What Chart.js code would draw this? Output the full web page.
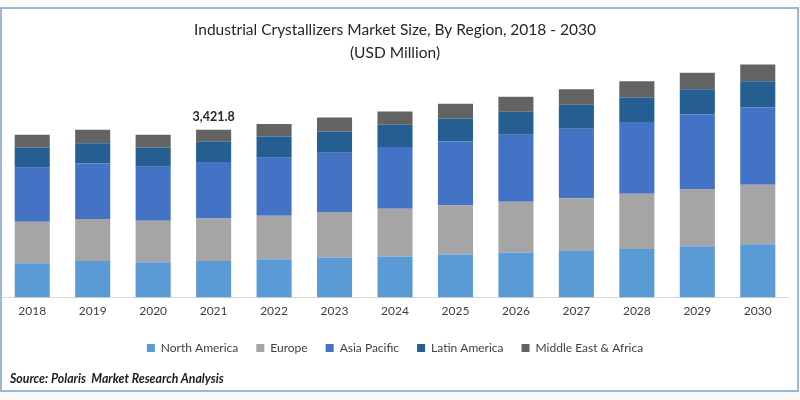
<!DOCTYPE html>
<html>
<head>
<meta charset="utf-8">
<script src="https://cdn.jsdelivr.net/npm/chart.js@4"></script>
<style>
  html, body { margin: 0; padding: 0; background: #fafaf8; }
  #wrap { position: absolute; left: 0; top: 0; width: 800px; height: 400px; }
  #frame { position: absolute; left: 0; top: 7px; width: 795px; height: 381px; border: 2px solid #9db8d6; background: #fff; }
  #chart { position: absolute; left: 0; top: 0; }
  #source { position: absolute; left: 10px; top: 371px; font: italic bold 12.3px Lato, "Liberation Sans", sans-serif; color: #1a1a1a; }
</style>
</head>
<body>
<div id="wrap">
  <div id="frame"></div>
  <canvas id="chart" width="800" height="400"></canvas>
  <div id="source">Source: Polaris&nbsp; Market Research Analysis</div>
</div>
<script>
const years = ['2018', '2019', '2020', '2021', '2022', '2023', '2024', '2025', '2026', '2027', '2028', '2029', '2030']

const northAmerica = [701, 748, 721, 748, 783, 818, 839, 880, 921, 948, 989, 1045, 1086]
const europe = [845, 853, 845, 866, 886, 927, 969, 995, 1031, 1078, 1127, 1166, 1216]
const asiaPacific = [1099, 1134, 1099, 1148, 1181, 1208, 1263, 1305, 1366, 1416, 1463, 1519, 1573]
const latinAmerica = [412, 412, 392, 412, 433, 433, 453, 468, 468, 488, 501, 515, 536]
const middleEastAfrica = [262, 274, 262, 247.8, 256, 282, 268, 303, 309, 315, 330, 336, 357]

const labelIndex = 3 // 2021 total shown on top
const fontFamily = 'Lato, "Liberation Sans", sans-serif'

const totalLabel = {
    id: 'totalLabel',
    afterDatasetsDraw(chart) {
        const ctx = chart.ctx
        const last = chart.getDatasetMeta(chart.data.datasets.length - 1)
        const bar = last.data[labelIndex]
        const total = chart.data.datasets.reduce((s, d) => s + d.data[labelIndex], 0)
        ctx.save()
        ctx.font = `bold 12.5px ${fontFamily}`
        ctx.fillStyle = '#262626'
        ctx.textAlign = 'center'
        ctx.textBaseline = 'middle'
        ctx.fillText(total.toLocaleString('en-US', { minimumFractionDigits: 1, maximumFractionDigits: 1 }), bar.x, bar.y - 13)
        ctx.restore()
    }
}

const el = document.getElementById('chart')

new Chart(el, {
    type: 'bar',
    data: {
        labels: years,
        datasets: [
            { label: 'North America', data: northAmerica, backgroundColor: '#5b9bd5' },
            { label: 'Europe', data: europe, backgroundColor: '#a5a5a5' },
            { label: 'Asia Pacific', data: asiaPacific, backgroundColor: '#4472c4' },
            { label: 'Latin America', data: latinAmerica, backgroundColor: '#255e91' },
            { label: 'Middle East & Africa', data: middleEastAfrica, backgroundColor: '#636363' }
        ]
    },
    options: {
        responsive: false,
        animation: false,
        layout: { padding: { left: 2, right: 12, bottom: 36 } },
        datasets: { bar: { barPercentage: 0.58, categoryPercentage: 1 } },
        scales: {
            x: {
                stacked: true,
                grid: { display: false, drawTicks: false },
                border: { display: true, color: '#d9d9d9' },
                ticks: { color: '#404040', font: { family: fontFamily, size: 12 }, padding: 6 }
            },
            y: {
                stacked: true,
                display: false,
                min: 0,
                max: 4750
            }
        },
        plugins: {
            title: {
                display: true,
                text: ['Industrial Crystallizers Market Size, By Region, 2018 - 2030', '(USD Million)'],
                color: '#262626',
                font: { family: fontFamily, size: 15.5, weight: 'normal', lineHeight: 1.5 },
                padding: { top: 18, bottom: 0 }
            },
            legend: {
                position: 'bottom',
                labels: {
                    color: '#404040',
                    boxWidth: 8,
                    boxHeight: 8,
                    padding: 18,
                    font: { family: fontFamily, size: 12 }
                }
            },
            tooltip: { enabled: false }
        }
    },
    plugins: [totalLabel]
})
</script>
</body>
</html>
